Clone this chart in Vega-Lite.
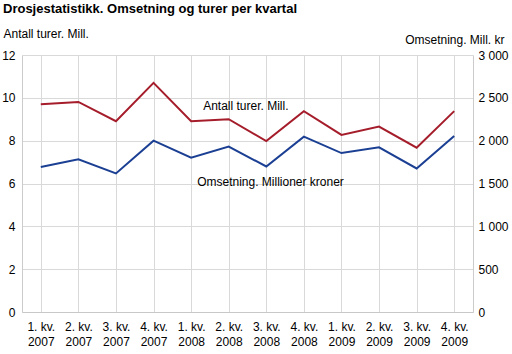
{
  "$schema": "https://vega.github.io/schema/vega-lite/v6.json",
  "width": 451,
  "height": 257,
  "autosize": {"type": "none"},
  "padding": {"left": 22, "top": 55, "right": 39, "bottom": 42},
  "background": "white",
  "title": {
    "text": "Drosjestatistikk. Omsetning og turer per kvartal",
    "anchor": "start",
    "frame": "group",
    "font": "Liberation Sans",
    "fontSize": 13,
    "fontWeight": "bold",
    "color": "#000000",
    "dx": -19,
    "offset": 1,
    "baseline": "alphabetic"
  },
  "config": {
    "view": {"stroke": null},
    "font": "Liberation Sans",
    "axis": {
      "labelFont": "Liberation Sans",
      "labelFontSize": 12,
      "labelColor": "#000000",
      "titleFont": "Liberation Sans",
      "titleFontSize": 12,
      "titleFontWeight": "normal",
      "titleColor": "#000000",
      "gridColor": "#d9d9d9",
      "domainColor": "#cccccc",
      "ticks": false
    }
  },
  "datasets": {
    "kv": [
      {"q": "1. kv. 2007", "turer": 9.70, "omsetning": 1692},
      {"q": "2. kv. 2007", "turer": 9.81, "omsetning": 1782},
      {"q": "3. kv. 2007", "turer": 8.91, "omsetning": 1618},
      {"q": "4. kv. 2007", "turer": 10.70, "omsetning": 2000},
      {"q": "1. kv. 2008", "turer": 8.91, "omsetning": 1801},
      {"q": "2. kv. 2008", "turer": 9.00, "omsetning": 1930},
      {"q": "3. kv. 2008", "turer": 7.98, "omsetning": 1699},
      {"q": "4. kv. 2008", "turer": 9.38, "omsetning": 2047},
      {"q": "1. kv. 2009", "turer": 8.27, "omsetning": 1855},
      {"q": "2. kv. 2009", "turer": 8.66, "omsetning": 1922},
      {"q": "3. kv. 2009", "turer": 7.67, "omsetning": 1676},
      {"q": "4. kv. 2009", "turer": 9.38, "omsetning": 2055}
    ],
    "labels": [
      {"q": "1. kv. 2008", "y": 9.63, "label": "Antall turer. Mill.", "serie": "turer"},
      {"q": "1. kv. 2008", "y": 6.08, "label": "Omsetning. Millioner kroner", "serie": "oms"}
    ]
  },
  "encoding": {
    "x": {
      "field": "q",
      "type": "ordinal",
      "sort": null,
      "scale": {
        "type": "point",
        "padding": 0.5,
        "domain": ["1. kv. 2007", "2. kv. 2007", "3. kv. 2007", "4. kv. 2007", "1. kv. 2008", "2. kv. 2008", "3. kv. 2008", "4. kv. 2008", "1. kv. 2009", "2. kv. 2009", "3. kv. 2009", "4. kv. 2009"]
      },
      "axis": {
        "title": null,
        "grid": true,
        "domain": true,
        "domainColor": "#c8c8c8",
        "labelAngle": 0,
        "labelPadding": 9,
        "labelBaseline": "top",
        "labelLineHeight": 15,
        "labelExpr": "[slice(datum.label, 0, 6), slice(datum.label, 7)]"
      }
    }
  },
  "layer": [
    {
      "layer": [
        {
          "data": {"name": "kv"},
          "mark": {"type": "line", "color": "#a51d2b", "strokeWidth": 2},
          "encoding": {
            "y": {
              "field": "turer",
              "type": "quantitative",
              "title": "Antall turer. Mill.",
              "scale": {"domain": [0, 12]},
              "axis": {
                "values": [0, 2, 4, 6, 8, 10, 12],
                "grid": true,
                "domain": true,
                "labelPadding": 7,
                "titleAngle": 0,
                "titleAlign": "left",
                "titleBaseline": "alphabetic",
                "titleX": -19,
                "titleY": -18
              }
            }
          }
        },
        {
          "data": {"name": "labels"},
          "transform": [{"filter": "datum.serie == 'turer'"}],
          "mark": {"type": "text", "align": "left", "baseline": "middle", "dx": 12, "fontSize": 12, "font": "Liberation Sans", "color": "#000000"},
          "encoding": {
            "y": {"field": "y", "type": "quantitative", "title": "Antall turer. Mill."},
            "text": {"field": "label"}
          }
        },
        {
          "data": {"name": "labels"},
          "transform": [{"filter": "datum.serie == 'oms'"}],
          "mark": {"type": "text", "align": "left", "baseline": "middle", "dx": 6, "fontSize": 12, "font": "Liberation Sans", "color": "#000000"},
          "encoding": {
            "y": {"field": "y", "type": "quantitative", "title": "Antall turer. Mill."},
            "text": {"field": "label"}
          }
        }
      ]
    },
    {
      "data": {"name": "kv"},
      "mark": {"type": "line", "color": "#1b3f93", "strokeWidth": 2},
      "encoding": {
        "y": {
          "field": "omsetning",
          "type": "quantitative",
          "title": "Omsetning. Mill. kr",
          "scale": {"domain": [0, 3000]},
          "axis": {
            "orient": "right",
            "values": [0, 500, 1000, 1500, 2000, 2500, 3000],
            "grid": false,
            "domain": true,
            "labelPadding": 5,
            "labelExpr": "replace(format(datum.value, ','), ',', ' ')",
            "titleAngle": 0,
            "titleAlign": "right",
            "titleBaseline": "alphabetic",
            "titleX": 31,
            "titleY": -12
          }
        }
      }
    }
  ],
  "resolve": {"scale": {"y": "independent"}}
}
